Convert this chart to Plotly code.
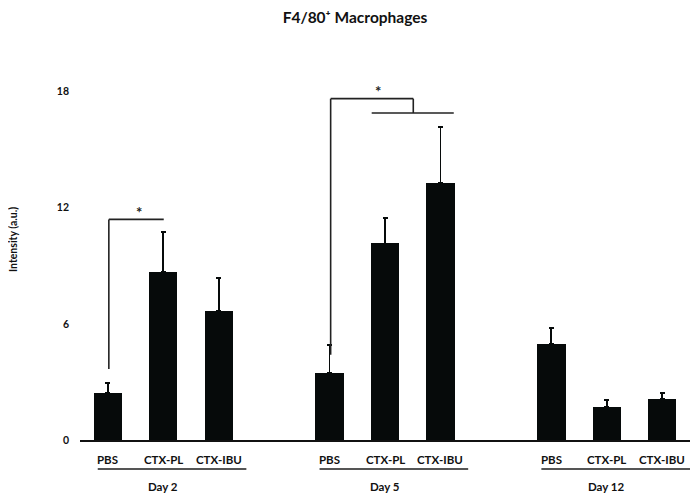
import plotly.graph_objects as go

# ---- data ----
groups = ["Day 2", "Day 5", "Day 12"]
treatments = ["PBS", "CTX-PL", "CTX-IBU"]
means = [2.43, 8.67, 6.69, 3.47, 10.16, 13.28, 4.95, 1.72, 2.14]
errors = [0.52, 2.07, 1.67, 1.44, 1.31, 2.89, 0.84, 0.35, 0.29]
y_ticks = [0, 6, 12, 18]

# positions: 3 bars per group, one empty slot between groups
positions = []
for g in range(len(groups)):
    for t in range(len(treatments)):
        positions.append(g * 4 + t)
labels = treatments * len(groups)

XMIN, XMAX = -0.5, 10.5
YMIN, YMAX = 0, 20
PAGE_OFF = 8  # default body margin of the html page
W, H = 699 - PAGE_OFF, 501 - PAGE_OFF
ML, MR, MT, MB = 80 - PAGE_OFF, 9, 53 - PAGE_OFF, 61
plot_h = H - MT - MB
plot_w = W - ML - MR

FONT = "Lato"
INK = "#060a0a"


def py(pix_below_axis):
    """paper y for a point given pixels below the x axis"""
    return -pix_below_axis / plot_h


def px(pos):
    return (pos - XMIN) / (XMAX - XMIN)


fig = go.Figure()
fig.add_trace(go.Bar(
    x=positions, y=means, width=0.51,
    marker=dict(color=INK, line=dict(width=0)),
    error_y=dict(type="data", array=errors, arrayminus=[0] * len(errors),
                 symmetric=False, color=INK, thickness=1.8, width=2.5),
    showlegend=False,
))

annotations = []
shapes = []
lab_font = dict(family=FONT, size=11.5, color="#111", weight="bold")

# category labels
for p, lab in zip(positions, labels):
    annotations.append(dict(x=p, y=py(19), xref="x", yref="paper", text=lab,
                            showarrow=False, font=lab_font,
                            xanchor="center", yanchor="middle"))
# group underline + label
for g, name in enumerate(groups):
    x0 = g * 4 - 0.18
    x1 = g * 4 + 2.5
    shapes.append(dict(type="line", xref="paper", yref="paper", x0=px(x0), x1=px(x1),
                       y0=py(29), y1=py(29), line=dict(color="#555", width=2)))
    annotations.append(dict(x=g * 4 + 1, y=py(46), xref="x", yref="paper", text=name,
                            showarrow=False, font=lab_font,
                            xanchor="center", yanchor="middle"))

# significance brackets
bl = dict(color="#222", width=1.6)
star_font = dict(family=FONT, size=15, color="#222", weight="bold")
# Day 2: PBS vs CTX-PL
shapes.append(dict(type="line", xref="x", yref="y", x0=0.02, x1=0.02, y0=3.67, y1=11.4, line=bl))
shapes.append(dict(type="line", xref="x", yref="y", x0=0.02, x1=1.01, y0=11.4, y1=11.4, line=bl))
annotations.append(dict(x=0.56, y=11.2, xref="x", yref="y", text="*", showarrow=False,
                        font=star_font, yanchor="bottom"))
# Day 5: PBS vs CTX-PL/CTX-IBU
shapes.append(dict(type="line", xref="x", yref="y", x0=4.02, x1=4.02, y0=4.4, y1=17.64, line=bl))
shapes.append(dict(type="line", xref="x", yref="y", x0=4.02, x1=5.51, y0=17.64, y1=17.64, line=bl))
shapes.append(dict(type="line", xref="x", yref="y", x0=5.51, x1=5.51, y0=17.64, y1=16.9, line=bl))
shapes.append(dict(type="line", xref="x", yref="y", x0=4.76, x1=6.24, y0=16.9, y1=16.9, line=bl))
annotations.append(dict(x=4.88, y=17.45, xref="x", yref="y", text="*", showarrow=False,
                        font=star_font, yanchor="bottom"))

# y-axis title
annotations.append(dict(x=-(80 - 13) / plot_w, y=(440 - 240) / plot_h, xref="paper", yref="paper",
                        text="Intensity (a.u.)", textangle=-90, showarrow=False,
                        font=dict(family=FONT, size=10.5, color="#111", weight="bold"),
                        xanchor="center", yanchor="middle"))

fig.update_layout(
    width=W, height=H,
    margin=dict(l=ML, r=MR, t=MT, b=MB),
    plot_bgcolor="white", paper_bgcolor="white",
    title=dict(text="F4/80\u207a Macrophages", x=(355 - PAGE_OFF) / W, xanchor="center",
               y=1 - (18 - PAGE_OFF) / H, yanchor="middle", yref="container",
               font=dict(family=FONT, size=15.5, color="#111", weight="bold")),
    xaxis=dict(range=[XMIN, XMAX], showticklabels=False, ticks="", showgrid=False, zeroline=False,
               showline=True, linecolor="#111", linewidth=2),
    yaxis=dict(range=[YMIN, YMAX], tickvals=y_ticks, ticks="", showgrid=False, zeroline=False,
               showline=False, ticklabelstandoff=10,
               tickfont=dict(family=FONT, size=10.5, color="#111", weight="bold")),
    shapes=shapes, annotations=annotations,
    bargap=0,
)

fig.write_html("out.html")
